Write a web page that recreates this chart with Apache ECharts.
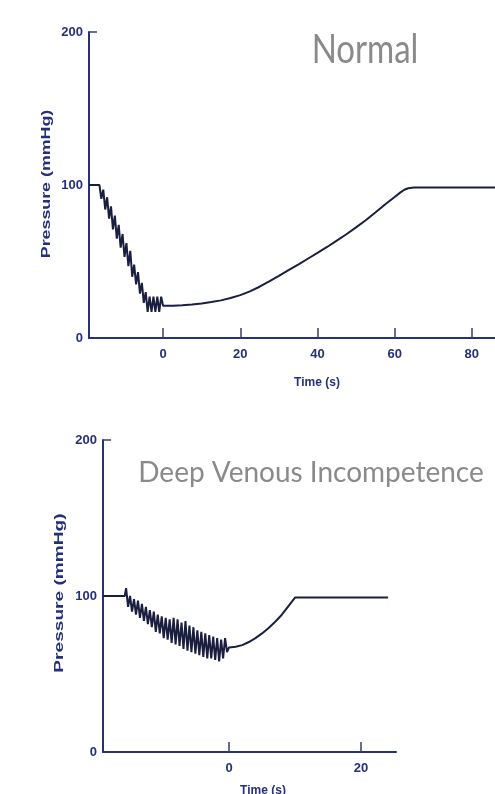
<!DOCTYPE html>
<html><head><meta charset="utf-8">
<script src="https://cdn.jsdelivr.net/npm/echarts@6/dist/echarts.min.js"></script>
<style>html,body{margin:0;padding:0;background:#fff}#c{width:495px;height:794px}</style>
</head><body><div id="c"></div>
<script>
// ---- data ----
const normalTime = [-19.2, -16.5, -16.0, -15.5, -15.0, -14.5, -14.0, -13.5, -13.0, -12.5, -12.0, -11.5, -11.0, -10.5, -10.0, -9.5, -9.0, -8.5, -8.0, -7.5, -7.0, -6.5, -6.0, -5.5, -5.0, -4.5, -4.0, -3.5, -3.0, -2.5, -2.0, -1.5, -1.0, -0.5, 0, 2.5, 5, 7.5, 10, 12.5, 15, 17.5, 20, 22.5, 25, 27.5, 30, 32.5, 35, 37.5, 40, 42.5, 45, 47.5, 50, 52.5, 55, 57.5, 60, 61.5, 62.5, 63.5, 65, 86];
const normalPressure = [100, 100, 91, 97, 84, 92, 78, 86, 71, 80, 65, 74, 59, 68, 53, 62, 47, 57, 40, 48, 35, 43, 29, 36, 23, 30, 17, 27, 17, 27, 17, 27, 17, 27, 21, 21.1, 21.4, 21.9, 22.6, 23.5, 24.6, 26.1, 28, 30.5, 33.5, 37, 40.6, 44.3, 48, 51.8, 55.6, 59.5, 63.6, 67.8, 72.3, 77, 82, 87.2, 92.2, 95.2, 96.9, 97.9, 98.4, 98.4];
const dviTime = [-19.1, -15.8, -15.6, -15.3, -15.0, -14.7, -14.4, -14.1, -13.8, -13.5, -13.2, -12.9, -12.6, -12.3, -12.0, -11.7, -11.4, -11.1, -10.8, -10.5, -10.2, -9.9, -9.6, -9.3, -9.0, -8.7, -8.4, -8.1, -7.8, -7.5, -7.2, -6.9, -6.6, -6.3, -6.0, -5.7, -5.4, -5.1, -4.8, -4.5, -4.2, -3.9, -3.6, -3.3, -3.0, -2.7, -2.4, -2.1, -1.8, -1.5, -1.2, -0.9, -0.6, -0.3, 0, 1, 2, 3, 4, 5, 6, 7, 8, 9, 10, 24.1];
const dviPressure = [100, 100, 105, 93, 100, 90, 98, 88, 97, 86, 95, 84, 93, 82, 91, 80, 90, 77, 88, 76, 87, 73, 86, 72, 85, 70, 86, 69, 85, 68, 83, 66, 84, 65, 81, 64, 80, 63, 78, 62, 77, 61, 76, 60, 75, 60, 74, 59, 73, 58, 72, 60, 73, 64, 67, 67.5, 68.5, 70.5, 73, 76, 79.5, 83.5, 88, 93.5, 99, 99];
const normalTicks = [0, 20, 40, 60, 80];
const dviTicks = [0, 20];
const pressureLabels = [0, 100, 200];
const pressureTickMarks = [200];
const chartTitles = ['Normal', 'Deep Venous Incompetence'];
const yAxisName = 'Pressure (mmHg)';
const xAxisName = 'Time (s)';

// ---- styling ----
const AXIS = '#27307a';
const LABEL = '#25307a';
const LINE = '#1a1f40';
const NARROW = '"Liberation Sans Narrow", "Liberation Sans", Arial, sans-serif';
const TITLEFONT = 'Lato, "Open Sans", sans-serif';

function zip(a, b) { return a.map((v, i) => [v, b[i]]); }

function xAx(grid, min, max, ticks) {
  return {
    type: 'value', gridIndex: grid, min: min, max: max,
    axisLine: { show: true, onZero: false, lineStyle: { color: AXIS, width: 2 } },
    axisTick: { show: true, inside: true, length: 10, customValues: ticks, lineStyle: { color: '#3a3f66', width: 1.5 } },
    axisLabel: { customValues: ticks, color: LABEL, fontWeight: 'bold', fontSize: 13, fontFamily: NARROW, margin: 10 },
    splitLine: { show: false }
  };
}
function yAx(grid) {
  return {
    type: 'value', gridIndex: grid, min: 0, max: 200,
    axisLine: { show: true, onZero: false, lineStyle: { color: AXIS, width: 2 } },
    axisTick: { show: true, inside: true, length: 8, customValues: pressureTickMarks, lineStyle: { color: '#3a3f66', width: 1.5 } },
    axisLabel: { customValues: pressureLabels, color: LABEL, fontWeight: 'bold', fontSize: 13, fontFamily: NARROW, margin: 6 },
    splitLine: { show: false }
  };
}
function txt(x, y, s, size, rot, color, family, weight, sx, sy) {
  return { type: 'text', x: x, y: y, rotation: rot || 0, scaleX: sx || 1, scaleY: sy || 1,
    style: { text: s, fill: color, font: (weight || 'bold') + ' ' + size + 'px ' + family, align: 'center', verticalAlign: 'middle' } };
}

const chart = echarts.init(document.getElementById('c'));
chart.setOption({
  animation: false,
  backgroundColor: '#fff',
  grid: [
    { left: 89, width: 406, top: 32, height: 306 },
    { left: 103, width: 293, top: 440, height: 312 }
  ],
  xAxis: [xAx(0, -19.2, 86, normalTicks), xAx(1, -19.1, 25.3, dviTicks)],
  yAxis: [yAx(0), yAx(1)],
  series: [
    { type: 'line', xAxisIndex: 0, yAxisIndex: 0, data: zip(normalTime, normalPressure), showSymbol: false, lineStyle: { color: LINE, width: 2 } },
    { type: 'line', xAxisIndex: 1, yAxisIndex: 1, data: zip(dviTime, dviPressure), showSymbol: false, lineStyle: { color: LINE, width: 2 } }
  ],
  graphic: [
    txt(365, 50, chartTitles[0], 33, 0, '#8a8a8a', TITLEFONT, 'normal', 1, 1.22),
    txt(311, 473, chartTitles[1], 28, 0, '#8a8a8a', TITLEFONT, 'normal'),
    txt(46, 184, yAxisName, 13, Math.PI / 2, LABEL, '"Liberation Sans", Arial, sans-serif', 'bold', 1.37, 1),
    txt(59, 593, yAxisName, 13, Math.PI / 2, LABEL, '"Liberation Sans", Arial, sans-serif', 'bold', 1.47, 1),
    txt(317, 383, xAxisName, 12, 0, LABEL, NARROW),
    txt(263, 791, xAxisName, 12, 0, LABEL, NARROW)
  ]
});
</script></body></html>
